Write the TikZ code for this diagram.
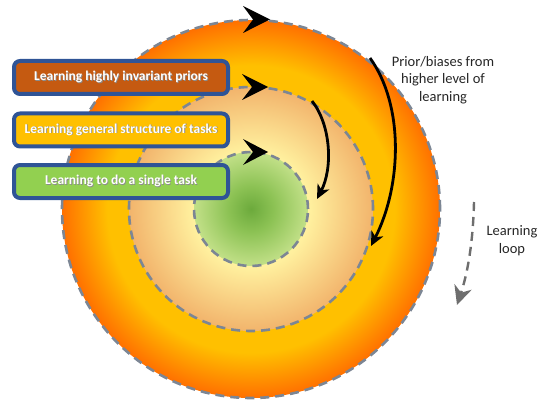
\documentclass[tikz,border=0pt]{standalone}
\usepackage{fontspec}
\setmainfont{Carlito}
\usetikzlibrary{arrows.meta}

% palette
\definecolor{ringgold}{RGB}{255,192,0}
\definecolor{ringorange}{RGB}{255,112,0}
\definecolor{midcenter}{RGB}{255,255,160}
\definecolor{midpale}{RGB}{255,240,158}
\definecolor{midedge}{RGB}{242,180,108}
\definecolor{coregreen}{RGB}{108,170,60}
\definecolor{coremid}{RGB}{140,194,84}
\definecolor{coreedge}{RGB}{194,224,136}
\definecolor{dashgray}{RGB}{124,134,148}
\definecolor{loopgray}{RGB}{110,110,110}
\definecolor{boxblue}{RGB}{47,84,150}
\definecolor{boxbrown}{RGB}{197,90,17}
\definecolor{boxgold}{RGB}{255,192,0}
\definecolor{boxgreen}{RGB}{146,208,80}
\definecolor{labeltext}{RGB}{38,38,38}

% radial fills of the three levels
\pgfdeclareradialshading{outerring}{\pgfpoint{0bp}{0bp}}{%
  color(0bp)=(ringgold); color(19bp)=(ringgold);
  color(25bp)=(ringorange); color(50bp)=(ringorange)}
\pgfdeclareradialshading{middisc}{\pgfpoint{0bp}{0bp}}{%
  color(0bp)=(midcenter); color(12bp)=(midpale);
  color(25bp)=(midedge); color(50bp)=(midedge)}
\pgfdeclareradialshading{coredisc}{\pgfpoint{0bp}{0bp}}{%
  color(0bp)=(coregreen); color(10bp)=(coremid);
  color(25bp)=(coreedge); color(50bp)=(coreedge)}

% white box text with a soft drop shadow (shadow box has zero width)
\newcommand\shtext[1]{\leavevmode\hbox to 0pt{\raise-0.8pt\hbox{\kern0.8pt\color{black!45}#1}\hss}#1}

\begin{document}
\begin{tikzpicture}[x=1pt,y=-1pt,
  levelcircle/.style={draw=dashgray, line width=2.6pt, dash pattern=on 9pt off 6pt},
  loophead/.style={fill=black},
  feedback/.style={draw=black, line width=2.8pt,
    -{Stealth[length=14pt,width=13pt,inset=4pt]}},
  levelbox/.style={draw=boxblue, line width=4pt, rounded corners=6pt,
    minimum width=214pt, minimum height=33pt, inner sep=0pt,
    text=white, font=\bfseries\fontsize{13.5}{15}\selectfont},
  labeltxt/.style={text=labeltext, align=center,
    font=\fontsize{14.5}{17.5}\selectfont}]
\useasboundingbox (0,0) rectangle (538,401);

\coordinate (o) at (251,209);

% nested levels
\shade[shading=outerring] (o) circle[radius=189pt];
\shade[shading=middisc] (o) circle[radius=122pt];
\shade[shading=coredisc] (o) circle[radius=57pt];
\draw[levelcircle] (o) circle[radius=189pt];
\draw[levelcircle] (o) circle[radius=122pt];
\draw[levelcircle] (o) circle[radius=57pt];

% direction marks on top of each circle
\fill[loophead] (270,19.5) -- (243,6) -- (253,19.5) -- (243,33) -- cycle;
\fill[loophead] (268,87) -- (242,74) -- (252,87) -- (242,100) -- cycle;
\fill[loophead] (268,152) -- (243,139) -- (253,152) -- (243,165) -- cycle;

% feedback from the higher levels
\coordinate (fa0) at (370,58);
\coordinate (fa1) at (371,246);
\coordinate (fb0) at (312,101);
\coordinate (fb1) at (317,199);
\draw[feedback] (fa0) .. controls (404,105) and (402,185) .. (fa1);
\draw[feedback] (fb0) .. controls (331,125) and (333,168) .. (fb1);

% learning loop
\coordinate (lp0) at (474,202);
\coordinate (lp1) at (457,305);
\draw[loopgray, line width=2.4pt, dash pattern=on 9pt off 6pt,
  -{Stealth[length=19pt,width=18pt,inset=6pt]}]
  (lp0) .. controls (473,245) and (467,275) .. (lp1);

% labels
\node[labeltxt] (prior) at (443,80) {Prior/biases from\\higher level of\\learning};
\node[labeltxt] (loop) at (512,240.5) {Learning\\loop};

% level boxes
\node[levelbox, fill=boxbrown] (invariant) at (121,77.5) {\shtext{Learning highly invariant priors}};
\node[levelbox, fill=boxgold] (general) at (121,130) {\shtext{Learning general structure of tasks}};
\node[levelbox, fill=boxgreen] (single) at (121,181.5) {\shtext{Learning to do a single task}};
\end{tikzpicture}
\end{document}
